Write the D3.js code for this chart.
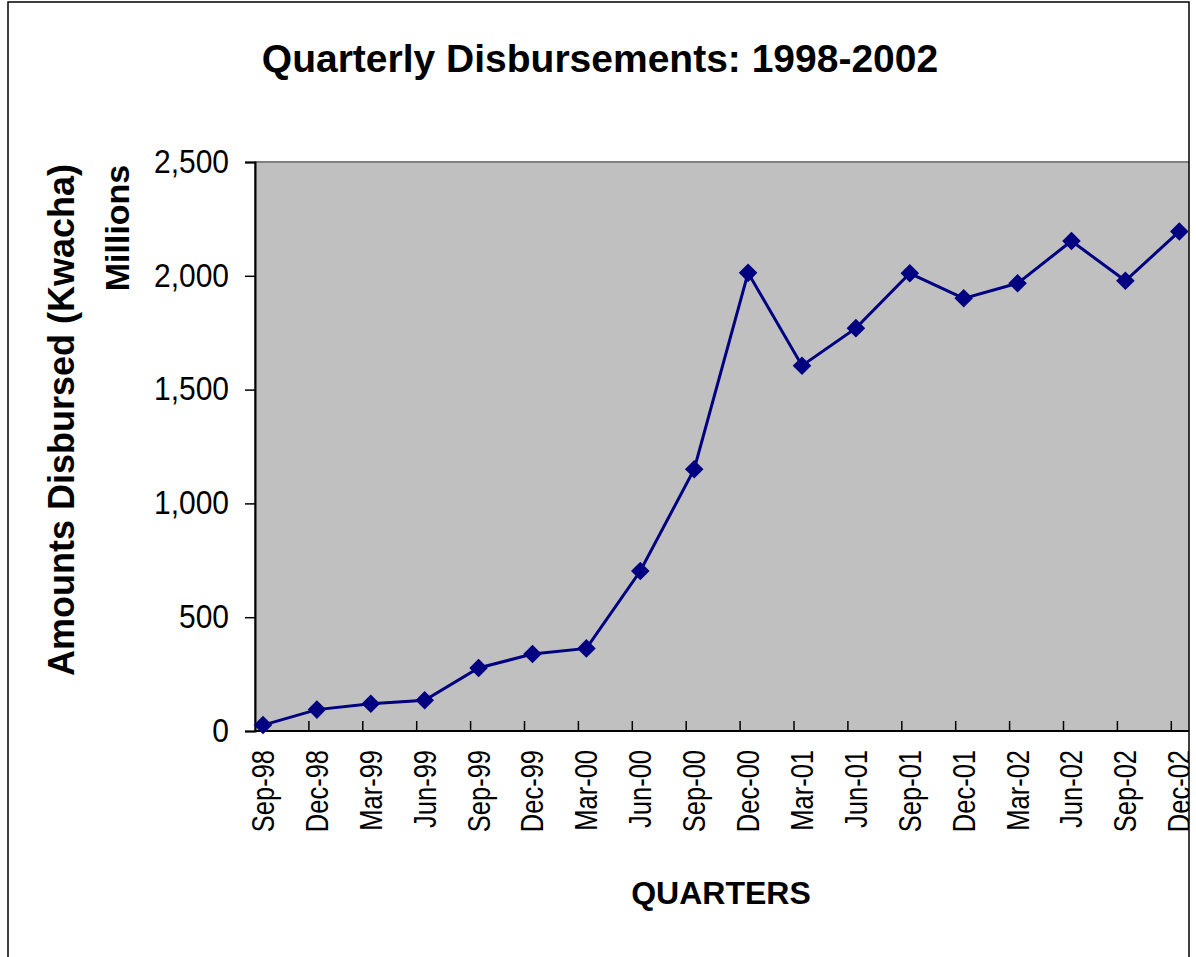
<!DOCTYPE html>
<html>
<head>
<meta charset="utf-8">
<script src="https://cdn.jsdelivr.net/npm/d3@7"></script>
<style>
  body { margin: 0; background: #fff; }
  svg { display: block; font-family: Arial, "Liberation Sans", sans-serif; }
</style>
</head>
<body>
<svg id="chart" width="1196" height="957"></svg>
<script>
// quarters and disbursed amounts (millions of kwacha)
var quarters = ["Sep-98", "Dec-98", "Mar-99", "Jun-99", "Sep-99", "Dec-99",
                "Mar-00", "Jun-00", "Sep-00", "Dec-00", "Mar-01", "Jun-01",
                "Sep-01", "Dec-01", "Mar-02", "Jun-02", "Sep-02", "Dec-02"];
var amounts = [26, 94, 120, 135, 277, 338,
               363, 703, 1150, 2013, 1605, 1770,
               2011, 1901, 1967, 2153, 1978, 2195];
var yTicks = [0, 500, 1000, 1500, 2000, 2500];

var svg = d3.select("#chart");

var plot = {left: 255, top: 162, bottom: 731, step: 53.9};
var markerShift = 8;   // points sit a little right of each tick mark

// the whole chart is clipped by its frame on the right
svg.append("clipPath").attr("id", "frameClip")
  .append("rect").attr("x", 8).attr("y", 2).attr("width", 1181).attr("height", 1000);

var root = svg.append("g").attr("clip-path", "url(#frameClip)");

var x = d3.scaleBand()
  .domain(quarters)
  .range([plot.left, plot.left + plot.step * quarters.length])
  .paddingInner(0).paddingOuter(0);

var y = d3.scaleLinear()
  .domain([0, 2500])
  .range([plot.bottom, plot.top]);

var px = function (d) { return x(d) + markerShift; };

/*
 * plot area
 */
root.append("rect")
  .attr("x", plot.left)
  .attr("y", plot.top)
  .attr("width", x.range()[1] - plot.left)
  .attr("height", plot.bottom - plot.top)
  .attr("fill", "#c0c0c0")
  .attr("stroke", "#808080")
  .attr("stroke-width", 2);

// y axis
var yAxis = root.append("g")
  .attr("transform", "translate(" + plot.left + ",0)")
  .call(d3.axisLeft(y).tickValues(yTicks).tickFormat(d3.format(",")).tickSize(10).tickPadding(16));
yAxis.select(".domain").attr("stroke", "#000").attr("stroke-width", 2);
yAxis.selectAll(".tick line").attr("stroke", "#000").attr("stroke-width", 1.5);
yAxis.selectAll(".tick text")
  .attr("font-size", 30)
  .attr("font-family", "Arial, 'Liberation Sans', sans-serif")
  .attr("fill", "#000")
  .attr("transform", "scale(1,1.08)");

// x axis: ticks on the category boundaries, pointing into the plot
var xAxis = root.append("g")
  .attr("transform", "translate(0," + plot.bottom + ")");
xAxis.append("line")
  .attr("x1", plot.left).attr("x2", x.range()[1])
  .attr("stroke", "#000").attr("stroke-width", 2);
xAxis.selectAll(".xtick")
  .data(quarters.slice(1))
  .enter().append("line")
  .attr("class", "xtick")
  .attr("x1", function (d) { return x(d); })
  .attr("x2", function (d) { return x(d); })
  .attr("y1", 0).attr("y2", -10)
  .attr("stroke", "#000").attr("stroke-width", 1.5);
xAxis.selectAll(".xlabel")
  .data(quarters)
  .enter().append("text")
  .attr("class", "xlabel")
  .attr("transform", function (d) { return "translate(" + px(d) + ",19) rotate(-90) scale(1,1.22)"; })
  .attr("text-anchor", "end")
  .attr("dy", "0.35em")
  .attr("font-size", 25.5)
  .attr("fill", "#000")
  .text(function (d) { return d; });

/*
 * data line with diamond markers
 */
var line = d3.line()
  .x(function (d, i) { return px(quarters[i]); })
  .y(function (d) { return y(d); });

root.append("path")
  .datum(amounts)
  .attr("d", line)
  .attr("fill", "none")
  .attr("stroke", "#000080")
  .attr("stroke-width", 3);

root.selectAll(".marker")
  .data(amounts)
  .enter().append("path")
  .attr("class", "marker")
  .attr("d", d3.symbol().type(d3.symbolDiamond2).size(220))
  .attr("transform", function (d, i) { return "translate(" + px(quarters[i]) + "," + y(d) + ")"; })
  .attr("fill", "#000080");

/*
 * titles
 */
svg.append("text")
  .attr("x", 600).attr("y", 72)
  .attr("text-anchor", "middle")
  .attr("font-size", 39).attr("font-weight", "bold")
  .text("Quarterly Disbursements: 1998-2002");

svg.append("text")
  .attr("x", 721).attr("y", 904)
  .attr("text-anchor", "middle")
  .attr("font-size", 32).attr("font-weight", "bold")
  .text("QUARTERS");

svg.append("text")
  .attr("transform", "translate(74,420) rotate(-90)")
  .attr("text-anchor", "middle")
  .attr("font-size", 36).attr("font-weight", "bold")
  .text("Amounts Disbursed (Kwacha)");

svg.append("text")
  .attr("transform", "translate(129,228) rotate(-90)")
  .attr("text-anchor", "middle")
  .attr("font-size", 34).attr("font-weight", "bold")
  .text("Millions");

// chart frame
svg.append("rect")
  .attr("x", 8).attr("y", 2)
  .attr("width", 1181).attr("height", 1000)
  .attr("fill", "none")
  .attr("stroke", "#000")
  .attr("stroke-width", 1.5);
</script>
</body>
</html>
